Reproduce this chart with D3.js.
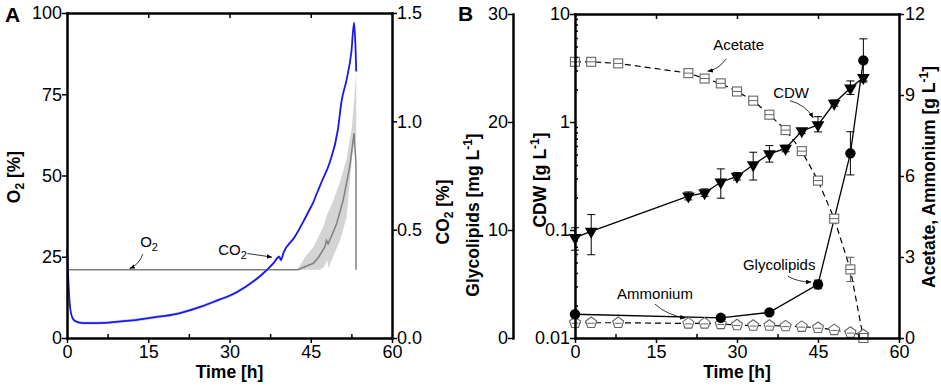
<!DOCTYPE html>
<html lang="en">
<head>
<meta charset="UTF-8">
<title>Fermentation profile</title>
<script src="https://d3js.org/d3.v7.min.js"></script>
<style>
  body { margin: 0; background: #fff; }
  svg { font-family: "Liberation Sans", Arial, sans-serif; }
  .axis line { stroke: #000; stroke-width: 1.5; }
  .axis path { stroke: #000; stroke-width: 2.5; stroke-linecap: square; }
  .axis text { font-size: 18px; fill: #000; }
  .title { font-size: 17.5px; font-weight: bold; }
  .note { font-size: 15px; }
</style>
</head>
<body>
<svg id="chart" width="941" height="386"></svg>
<script>
// ---- Panel A: off-gas (time in h) ----
const tCo2 = [0, 0.3, 0.6, 1, 1.5, 2.5, 4, 7, 10, 13, 16, 20, 22, 25, 28, 30, 33, 36, 38, 39.2, 39.5, 40, 42, 44, 45.1, 45.4, 46, 47, 48.5, 50, 50.7, 51.6, 52.5, 53, 53.25, 53.4];
const co2 = [0.41, 0.24, 0.135, 0.093, 0.078, 0.07, 0.069, 0.07, 0.077, 0.084, 0.095, 0.11, 0.123, 0.147, 0.176, 0.195, 0.237, 0.293, 0.342, 0.375, 0.36, 0.395, 0.465, 0.555, 0.608, 0.623, 0.66, 0.72, 0.81, 0.96, 1.095, 1.19, 1.32, 1.455, 1.35, 1.23];
const co2Sd = 0.007;

const tO2 = [0, 42.7, 44, 45.5, 46.5, 47.6, 47.9, 48.2, 49, 49.8, 51, 52.2, 53, 53.35, 53.35];
const o2 = [21, 21, 22, 23, 25, 28, 30, 29, 32, 35.3, 42.5, 52.7, 63, 53.7, 21];
const tO2Band = [42.5, 44, 45.5, 46.7, 47.5, 48, 48.3, 49.1, 50.4, 51.6, 52.6, 53, 53.4];
const o2Lo = [21, 21, 21, 21, 22, 24, 21.5, 25, 30, 37, 55, 60, 62];
const o2Hi = [21, 25, 28, 32, 35, 38, 39, 42, 48, 55, 65, 73, 82];

// ---- Panel B: offline samples ----
const tSample = [0, 3, 8, 21, 24, 27, 30, 33, 36, 39, 42, 45, 48, 51, 53.4];
const acetate = [10.23, 10.23, 10.17, 9.81, 9.61, 9.43, 9.13, 8.79, 8.27, 7.7, 6.92, 5.83, 4.42, 2.54, 0];
const acetateSd = [0, 0, 0, 0, 0, 0, 0, 0, 0, 0, 0, 0, 0, 0.45, 0];
const ammonium = [0.565, 0.565, 0.565, 0.54, 0.54, 0.52, 0.48, 0.46, 0.46, 0.44, 0.42, 0.38, 0.3, 0.2, 0.11];

const tCdw = [0, 3, 21, 24, 27, 30, 33, 36, 39, 42, 45, 48, 51, 53.4];
const cdw = [0.085, 0.097, 0.206, 0.221, 0.277, 0.313, 0.4, 0.507, 0.57, 0.826, 0.94, 1.49, 2.06, 2.58];
const cdwLo = [0.065, 0.059, 0.19, 0.205, 0.197, 0.29, 0.29, 0.425, 0.53, 0.78, 0.81, 1.4, 1.8, 2.4];
const cdwHi = [0.105, 0.139, 0.225, 0.24, 0.368, 0.34, 0.525, 0.605, 0.61, 0.87, 1.12, 1.6, 2.4, 2.75];

const tGly = [0, 27, 36, 45, 51, 53.4];
const glycolipids = [2.2, 1.87, 2.37, 4.96, 17.1, 25.7];
const glySd = [0.1, 0.1, 0.1, 0.4, 2.0, 2.0];

const timeTicks = [0, 15, 30, 45, 60];

const svg = d3.select("#chart");

// scales
const xA = d3.scaleLinear().domain([0, 60]).range([67, 392]);
const yO2 = d3.scaleLinear().domain([0, 100]).range([338, 13]);
const yCo2 = d3.scaleLinear().domain([0, 1.5]).range([338, 13]);

const xB = d3.scaleLinear().domain([0, 60]).range([575, 899]);
const yCdw = d3.scaleLog().domain([0.01, 10]).range([338, 14]);
const yGly = d3.scaleLinear().domain([0, 30]).range([338, 14]);
const yAc = d3.scaleLinear().domain([0, 12]).range([338, 14]);

svg.append("defs").append("marker")
    .attr("id", "arrow")
    .attr("viewBox", "0 0 10 10")
    .attr("refX", 9).attr("refY", 5)
    .attr("markerWidth", 7).attr("markerHeight", 7)
    .attr("orient", "auto")
    .append("path").attr("d", "M0,1L10,5L0,9Z").attr("fill", "#000");

// ================= Panel A =================
const gA = svg.append("g");

// grey band + line
gA.append("path")
    .datum(tO2Band.map((t, i) => ({ t: t, lo: o2Lo[i], hi: o2Hi[i] })))
    .attr("fill", "#d4d4d4")
    .attr("d", d3.area().x(d => xA(d.t)).y0(d => yO2(d.lo)).y1(d => yO2(d.hi)));

gA.append("path")
    .datum(tO2.map((t, i) => ({ t: t, v: o2[i] })))
    .attr("fill", "none").attr("stroke", "#7f7f7f").attr("stroke-width", 1.5)
    .attr("d", d3.line().x(d => xA(d.t)).y(d => yO2(d.v)));

// blue band + line
const co2Data = tCo2.map((t, i) => ({ t: t, v: co2[i] }));
gA.append("path")
    .datum(co2Data)
    .attr("fill", "#cdd0f5")
    .attr("d", d3.area().curve(d3.curveMonotoneX).x(d => xA(d.t))
        .y0(d => yCo2(Math.max(0, d.v - co2Sd))).y1(d => yCo2(d.v + co2Sd)));
gA.append("path")
    .datum(co2Data)
    .attr("fill", "none").attr("stroke", "#1a1ae6").attr("stroke-width", 1.8)
    .attr("d", d3.line().curve(d3.curveMonotoneX).x(d => xA(d.t)).y(d => yCo2(d.v)));

// axes A
gA.append("g").attr("class", "axis").attr("transform", "translate(0,338)")
    .call(d3.axisBottom(xA).tickValues(timeTicks).tickSizeInner(5).tickSizeOuter(0).tickPadding(2));
gA.append("g").attr("class", "axis").attr("transform", "translate(0,338)")
    .call(d3.axisBottom(xA).tickValues([7.5, 22.5, 37.5, 52.5]).tickSize(-4).tickFormat(""))
    .select(".domain").remove();
gA.append("g").attr("class", "axis").attr("transform", "translate(0,13)")
    .call(d3.axisTop(xA).tickValues([15, 30, 45]).tickSizeInner(-5).tickSizeOuter(0).tickFormat(""));
gA.append("g").attr("class", "axis").attr("transform", "translate(67,0)")
    .call(d3.axisLeft(yO2).tickValues([0, 25, 50, 75, 100]).tickSizeInner(5).tickSizeOuter(0).tickPadding(0));
gA.append("g").attr("class", "axis").attr("transform", "translate(392,0)")
    .call(d3.axisRight(yCo2).tickValues([0, 0.5, 1, 1.5]).tickFormat(d3.format(".1f")).tickSizeInner(5).tickSizeOuter(0).tickPadding(0));

// titles A
gA.append("text").attr("class", "title").attr("text-anchor", "middle")
    .attr("x", xA(30)).attr("y", 378).text("Time [h]");
const tO2Title = gA.append("text").attr("class", "title").attr("text-anchor", "middle")
    .attr("transform", "translate(20,177) rotate(-90)");
tO2Title.append("tspan").text("O");
tO2Title.append("tspan").attr("font-size", 12).attr("dy", 4).text("2");
tO2Title.append("tspan").attr("dy", -4).text(" [%]");
const tCo2Title = gA.append("text").attr("class", "title").attr("text-anchor", "middle")
    .attr("transform", "translate(449,212) rotate(-90)");
tCo2Title.append("tspan").text("CO");
tCo2Title.append("tspan").attr("font-size", 12).attr("dy", 4).text("2");
tCo2Title.append("tspan").attr("dy", -4).text(" [%]");

// notes A
const noteO2 = gA.append("text").attr("class", "note").attr("x", xA(13.5)).attr("y", yO2(28));
noteO2.append("tspan").text("O");
noteO2.append("tspan").attr("font-size", 11).attr("dy", 4).text("2");
gA.append("path").attr("fill", "none").attr("stroke", "#000").attr("stroke-width", 0.8)
    .attr("marker-end", "url(#arrow)")
    .attr("d", `M${xA(14)},${yO2(25.8)}Q${xA(13.3)},${yO2(22.6)} ${xA(11.6)},${yO2(21.4)}`);

const noteCo2 = gA.append("text").attr("class", "note").attr("x", xA(27.9)).attr("y", yO2(25.5));
noteCo2.append("tspan").text("CO");
noteCo2.append("tspan").attr("font-size", 11).attr("dy", 4).text("2");
gA.append("path").attr("fill", "none").attr("stroke", "#000").attr("stroke-width", 0.8)
    .attr("marker-end", "url(#arrow)")
    .attr("d", `M${xA(33.3)},${yO2(26)}L${xA(37.8)},${yO2(24.9)}`);

gA.append("text").attr("x", 5).attr("y", 22).attr("font-size", 21).attr("font-weight", "bold").text("A");

// ================= Panel B =================
const gB = svg.append("g");

function pentagon(r) {
    const pts = d3.range(5).map(k => {
        const a = -Math.PI / 2 + k * 2 * Math.PI / 5;
        return [r * Math.cos(a), r * Math.sin(a)];
    });
    return "M" + pts.map(p => p.join(",")).join("L") + "Z";
}

// lines
gB.append("path")
    .datum(tSample.map((t, i) => ({ t: t, v: acetate[i] })))
    .attr("fill", "none").attr("stroke", "#000").attr("stroke-width", 1.2).attr("stroke-dasharray", "6,4")
    .attr("d", d3.line().x(d => xB(d.t)).y(d => yAc(d.v)));
gB.append("path")
    .datum(tSample.map((t, i) => ({ t: t, v: ammonium[i] })))
    .attr("fill", "none").attr("stroke", "#000").attr("stroke-width", 1.2).attr("stroke-dasharray", "6,4")
    .attr("d", d3.line().x(d => xB(d.t)).y(d => yAc(d.v)));
gB.append("path")
    .datum(tCdw.map((t, i) => ({ t: t, v: cdw[i] })))
    .attr("fill", "none").attr("stroke", "#000").attr("stroke-width", 1.3)
    .attr("d", d3.line().x(d => xB(d.t)).y(d => yCdw(d.v)));
gB.append("path")
    .datum(tGly.map((t, i) => ({ t: t, v: glycolipids[i] })))
    .attr("fill", "none").attr("stroke", "#000").attr("stroke-width", 1.3)
    .attr("d", d3.line().x(d => xB(d.t)).y(d => yGly(d.v)));

function errorBars(g, data, color) {
    const eb = g.append("g").attr("stroke", color).attr("stroke-width", 1);
    data.filter(d => d.hi - d.lo > 1e-9).forEach(d => {
        eb.append("line").attr("x1", d.x).attr("x2", d.x).attr("y1", d.yHi).attr("y2", d.yLo);
        eb.append("line").attr("x1", d.x - 4).attr("x2", d.x + 4).attr("y1", d.yHi).attr("y2", d.yHi);
        eb.append("line").attr("x1", d.x - 4).attr("x2", d.x + 4).attr("y1", d.yLo).attr("y2", d.yLo);
    });
}

errorBars(gB, tSample.map((t, i) => ({
    x: xB(t), lo: acetate[i] - acetateSd[i], hi: acetate[i] + acetateSd[i],
    yLo: yAc(acetate[i] - acetateSd[i]), yHi: yAc(acetate[i] + acetateSd[i])
})), "#555");
errorBars(gB, tCdw.map((t, i) => ({
    x: xB(t), lo: cdwLo[i], hi: cdwHi[i], yLo: yCdw(cdwLo[i]), yHi: yCdw(cdwHi[i])
})), "#000");
errorBars(gB, tGly.map((t, i) => ({
    x: xB(t), lo: glycolipids[i] - glySd[i], hi: glycolipids[i] + glySd[i],
    yLo: yGly(glycolipids[i] - glySd[i]), yHi: yGly(glycolipids[i] + glySd[i])
})), "#000");

// markers: ammonium pentagons
const amm = gB.append("g").selectAll("g").data(tSample.map((t, i) => ({ t: t, v: ammonium[i] })))
    .join("g").attr("transform", d => `translate(${xB(d.t)},${yAc(d.v)})`);
amm.append("path").attr("d", pentagon(5.8)).attr("fill", "#fff").attr("stroke", "#666").attr("stroke-width", 1.1);
amm.append("line").attr("x1", -3.5).attr("x2", 3.5).attr("y1", 0.5).attr("y2", 0.5).attr("stroke", "#666").attr("stroke-width", 1);

// acetate squares
const ac = gB.append("g").selectAll("g").data(tSample.map((t, i) => ({ t: t, v: acetate[i] })))
    .join("g").attr("transform", d => `translate(${xB(d.t)},${yAc(d.v)})`);
ac.append("rect").attr("x", -4.5).attr("y", -4.5).attr("width", 9).attr("height", 9)
    .attr("fill", "#fff").attr("stroke", "#666").attr("stroke-width", 1.1);
ac.append("line").attr("x1", -4.5).attr("x2", 4.5).attr("y1", 0).attr("y2", 0).attr("stroke", "#666").attr("stroke-width", 1);

// CDW triangles
gB.append("g").selectAll("path").data(tCdw.map((t, i) => ({ t: t, v: cdw[i] })))
    .join("path")
    .attr("d", d3.symbol(d3.symbolTriangle, 70))
    .attr("transform", d => `translate(${xB(d.t)},${yCdw(d.v)}) rotate(180)`)
    .attr("fill", "#000");

// glycolipid circles
gB.append("g").selectAll("circle").data(tGly.map((t, i) => ({ t: t, v: glycolipids[i] })))
    .join("circle")
    .attr("cx", d => xB(d.t)).attr("cy", d => yGly(d.v)).attr("r", 5.2).attr("fill", "#000");

// axes B
gB.append("g").attr("class", "axis").attr("transform", "translate(0,338)")
    .call(d3.axisBottom(xB).tickValues(timeTicks).tickSizeInner(5).tickSizeOuter(0).tickPadding(2));
gB.append("g").attr("class", "axis").attr("transform", "translate(0,338)")
    .call(d3.axisBottom(xB).tickValues([7.5, 22.5, 37.5, 52.5]).tickSize(-4).tickFormat(""))
    .select(".domain").remove();
gB.append("g").attr("class", "axis").attr("transform", "translate(0,14)")
    .call(d3.axisTop(xB).tickValues([15, 30, 45]).tickSizeInner(-5).tickSizeOuter(0).tickFormat(""));
gB.append("g").attr("class", "axis").attr("transform", "translate(575,0)")
    .call(d3.axisLeft(yCdw).tickValues([0.01, 0.1, 1, 10]).tickFormat(d => String(d)).tickSizeInner(5).tickSizeOuter(0).tickPadding(0));
const minorLog = [];
[0.01, 0.1, 1].forEach(p => d3.range(2, 10).forEach(k => minorLog.push(+(p * k).toPrecision(2))));
gB.append("g").attr("class", "axis").attr("transform", "translate(575,0)")
    .call(d3.axisLeft(yCdw).tickValues(minorLog).tickSize(-3).tickFormat(""))
    .select(".domain").remove();
gB.append("g").attr("class", "axis").attr("transform", "translate(513,0)")
    .call(d3.axisLeft(yGly).tickValues([0, 10, 20, 30]).tickSizeInner(5).tickSizeOuter(0).tickPadding(0));
gB.append("g").attr("class", "axis").attr("transform", "translate(899,0)")
    .call(d3.axisRight(yAc).tickValues([0, 3, 6, 9, 12]).tickSizeInner(5).tickSizeOuter(0).tickPadding(1));

// titles B
gB.append("text").attr("class", "title").attr("text-anchor", "middle")
    .attr("x", xB(30)).attr("y", 378).text("Time [h]");

function unitTitle(g, x, y, main) {
    const t = g.append("text").attr("class", "title").attr("text-anchor", "middle")
        .attr("transform", `translate(${x},${y}) rotate(-90)`);
    t.append("tspan").text(main);
    t.append("tspan").attr("font-size", 12).attr("dy", -7).text("-1");
    t.append("tspan").attr("dy", 7).text("]");
}
unitTitle(gB, 479, 215, "Glycolipids [mg L");
unitTitle(gB, 546, 180, "CDW [g L");
unitTitle(gB, 935, 177, "Acetate, Ammonium [g L");

// notes B
function note(g, label, tx, ty, p0, c, p1) {
    g.append("text").attr("class", "note").attr("x", xB(tx)).attr("y", yAc(ty)).text(label);
    g.append("path").attr("fill", "none").attr("stroke", "#000").attr("stroke-width", 0.8)
        .attr("marker-end", "url(#arrow)")
        .attr("d", `M${xB(p0[0])},${yAc(p0[1])}Q${xB(c[0])},${yAc(c[1])} ${xB(p1[0])},${yAc(p1[1])}`);
}
note(gB, "Acetate", 25.6, 10.67, [28.0, 10.34], [26.6, 9.95], [24.6, 9.88]);
note(gB, "CDW", 36.7, 8.9, [39.8, 8.79], [42.6, 8.65], [44.1, 8.16]);
note(gB, "Glycolipids", 31.1, 2.51, [39.4, 2.29], [41.2, 2.08], [43.7, 2.07]);
note(gB, "Ammonium", 7.8, 1.44, [14.8, 1.26], [17, 0.85], [20.4, 0.74]);

gB.append("text").attr("x", 458).attr("y", 21).attr("font-size", 21).attr("font-weight", "bold").text("B");
</script>
</body>
</html>
